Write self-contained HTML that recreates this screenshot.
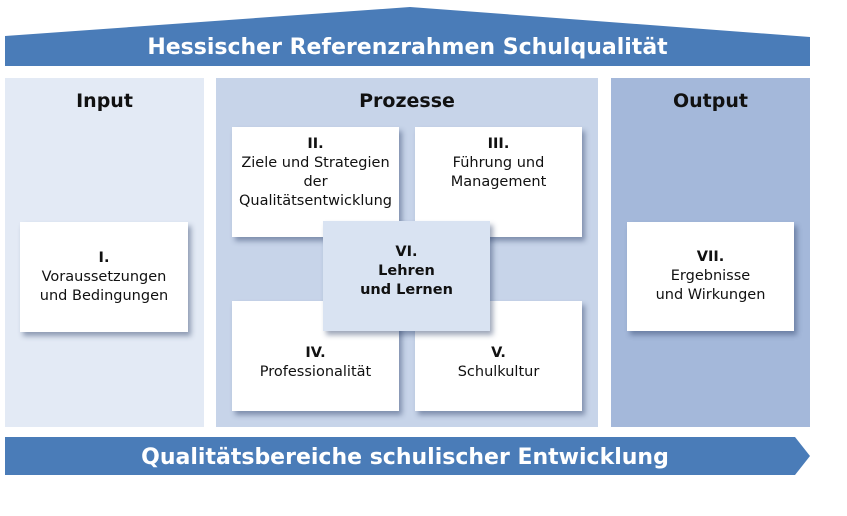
<!DOCTYPE html>
<html><head><meta charset="utf-8"><style>
body{margin:0;width:847px;height:516px;background:#fff;position:relative;overflow:hidden;font-family:"DejaVu Sans","Liberation Sans",sans-serif;}
.a{position:absolute}
.col{position:absolute;top:78px;height:349px}
.h{position:absolute;width:100%;top:12px;text-align:center;font-size:19px;font-weight:bold;color:#111}
.box{position:absolute;background:#fff;box-shadow:3px 4px 5px rgba(40,60,100,.45);display:flex;flex-direction:column;align-items:center;justify-content:center;text-align:center;font-size:14.5px;line-height:19px;color:#111}
.box b{font-weight:bold}
</style></head><body>
<svg class="a" style="left:0;top:0" width="847" height="516">
<polygon points="5,36 410,7 810,37 810,66 5,66" fill="#4a7cb8"/>
<polygon points="5,437 795,437 810,456 795,475 5,475" fill="#4a7cb8"/>
</svg>
<div class="a" style="left:5px;top:35px;width:805px;text-align:center;color:#fff;font-size:22px;font-weight:bold">Hessischer Referenzrahmen Schulqualität</div>
<div class="a" style="left:5px;top:445px;width:800px;text-align:center;color:#fff;font-size:22px;font-weight:bold">Qualitätsbereiche schulischer Entwicklung</div>
<div class="col" style="left:5px;width:199px;background:#e3eaf5"><div class="h">Input</div></div>
<div class="col" style="left:216px;width:382px;background:#c7d4e9"><div class="h">Prozesse</div></div>
<div class="col" style="left:611px;width:199px;background:#a4b8da"><div class="h">Output</div></div>
<div class="box" style="left:20px;top:222px;width:168px;height:110px"><b>I.</b>Voraussetzungen<br>und Bedingungen</div>
<div class="box" style="left:627px;top:222px;width:167px;height:109px"><b>VII.</b>Ergebnisse<br>und Wirkungen</div>
<div class="box" style="left:232px;top:127px;width:167px;height:110px;justify-content:flex-start;padding-top:8px;box-sizing:border-box"><b>II.</b>Ziele und Strategien<br>der<br>Qualitätsentwicklung</div>
<div class="box" style="left:415px;top:127px;width:167px;height:110px;justify-content:flex-start;padding-top:8px;box-sizing:border-box"><b>III.</b>Führung und<br>Management</div>
<div class="box" style="left:232px;top:301px;width:167px;height:110px;padding-top:43px;justify-content:flex-start;box-sizing:border-box"><b>IV.</b>Professionalität</div>
<div class="box" style="left:415px;top:301px;width:167px;height:110px;padding-top:43px;justify-content:flex-start;box-sizing:border-box"><b>V.</b>Schulkultur</div>
<div class="box" style="left:323px;top:221px;width:167px;height:110px;background:#d9e3f2;font-weight:bold;padding-bottom:10px;box-sizing:border-box">VI.<br>Lehren<br>und Lernen</div>
</body></html>
